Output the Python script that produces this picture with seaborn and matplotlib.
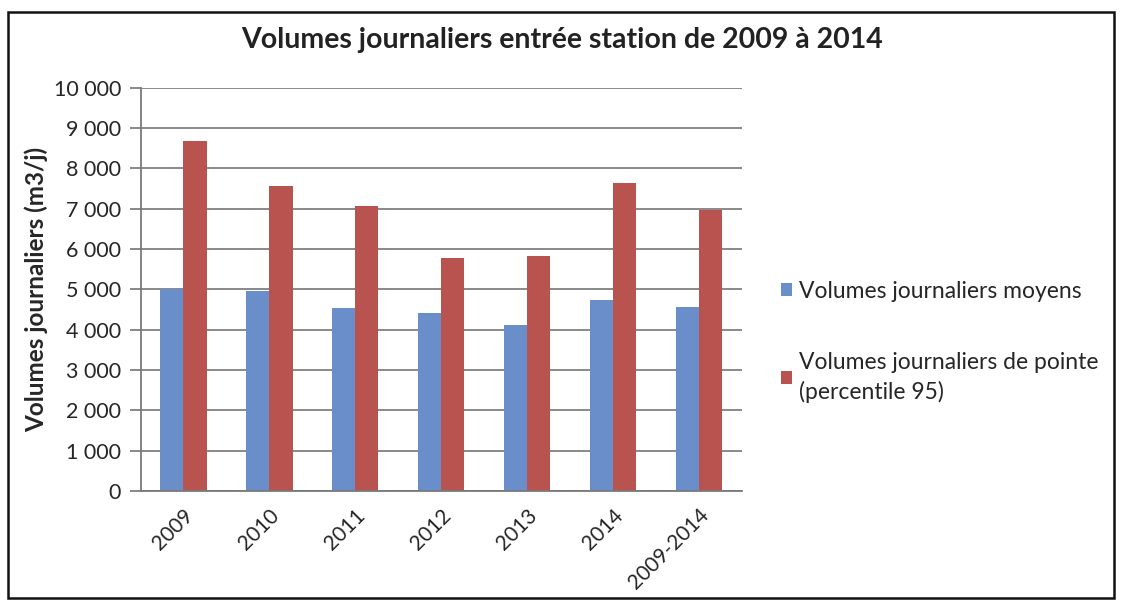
import matplotlib
matplotlib.use("Agg")
import matplotlib.pyplot as plt
from matplotlib.patches import Rectangle
from matplotlib.ticker import FuncFormatter
import seaborn as sns
import pandas as pd

# Data
years = ["2009", "2010", "2011", "2012", "2013", "2014", "2009-2014"]
moyens = [5000, 4960, 4550, 4420, 4130, 4750, 4570]
pointe = [8680, 7560, 7070, 5780, 5830, 7640, 6980]
series_names = ["Volumes journaliers moyens",
                "Volumes journaliers de pointe\n(percentile 95)"]
colors = ["#6a8ec9", "#b9534f"]

df = pd.DataFrame({
    "annee": years * 2,
    "volume": moyens + pointe,
    "serie": [series_names[0]] * len(years) + [series_names[1]] * len(years),
})

sns.set_theme(style="white")
plt.rcParams["font.family"] = ["Lato", "DejaVu Sans"]

fig = plt.figure(figsize=(11.24, 6.1), dpi=100)
ax = fig.add_axes([0.125, 0.195, 0.535, 0.661])

sns.barplot(data=df, x="annee", y="volume", hue="serie", palette=colors,
            width=0.54, saturation=1, linewidth=0, ax=ax, legend=True)

ax.set_ylim(0, 10000)
ax.set_yticks(range(0, 10001, 1000))
ax.yaxis.set_major_formatter(FuncFormatter(lambda v, p: f"{int(v):,}".replace(",", " ")))
ax.grid(axis="y", color="#808080", linewidth=1.3)
ax.set_axisbelow(True)
for s in ["top", "right"]:
    ax.spines[s].set_visible(False)
for s in ["left", "bottom"]:
    ax.spines[s].set_color("#7a7a7a")
    ax.spines[s].set_linewidth(1.3)
ax.tick_params(axis="y", left=True, length=8, color="#7a7a7a", labelsize=15.5, pad=6)
ax.tick_params(axis="x", bottom=False, labelsize=15, pad=4)
for lab in ax.get_xticklabels():
    lab.set_rotation(45)
    lab.set_ha("right")
    lab.set_rotation_mode("anchor")

ax.set_xlabel("")
ax.set_ylabel("Volumes journaliers (m3/j)", fontsize=17.5, fontweight="bold", labelpad=4)
fig.text(0.5, 0.935, "Volumes journaliers entrée station de 2009 à 2014",
         ha="center", va="center", fontsize=20.5, fontweight="bold", color="#222222")

leg = ax.legend(loc="center left", bbox_to_anchor=(1.03, 0.37), frameon=False,
                fontsize=16.5, handlelength=0.5, handleheight=0.5, handletextpad=0.3,
                labelspacing=2.2)
plt.setp(leg.get_texts(), linespacing=1.45)

fig.add_artist(Rectangle((0.007, 0.02), 0.984, 0.96, transform=fig.transFigure,
                         fill=False, edgecolor="#111111", linewidth=1.8))

fig.savefig("out.png", dpi=100)
